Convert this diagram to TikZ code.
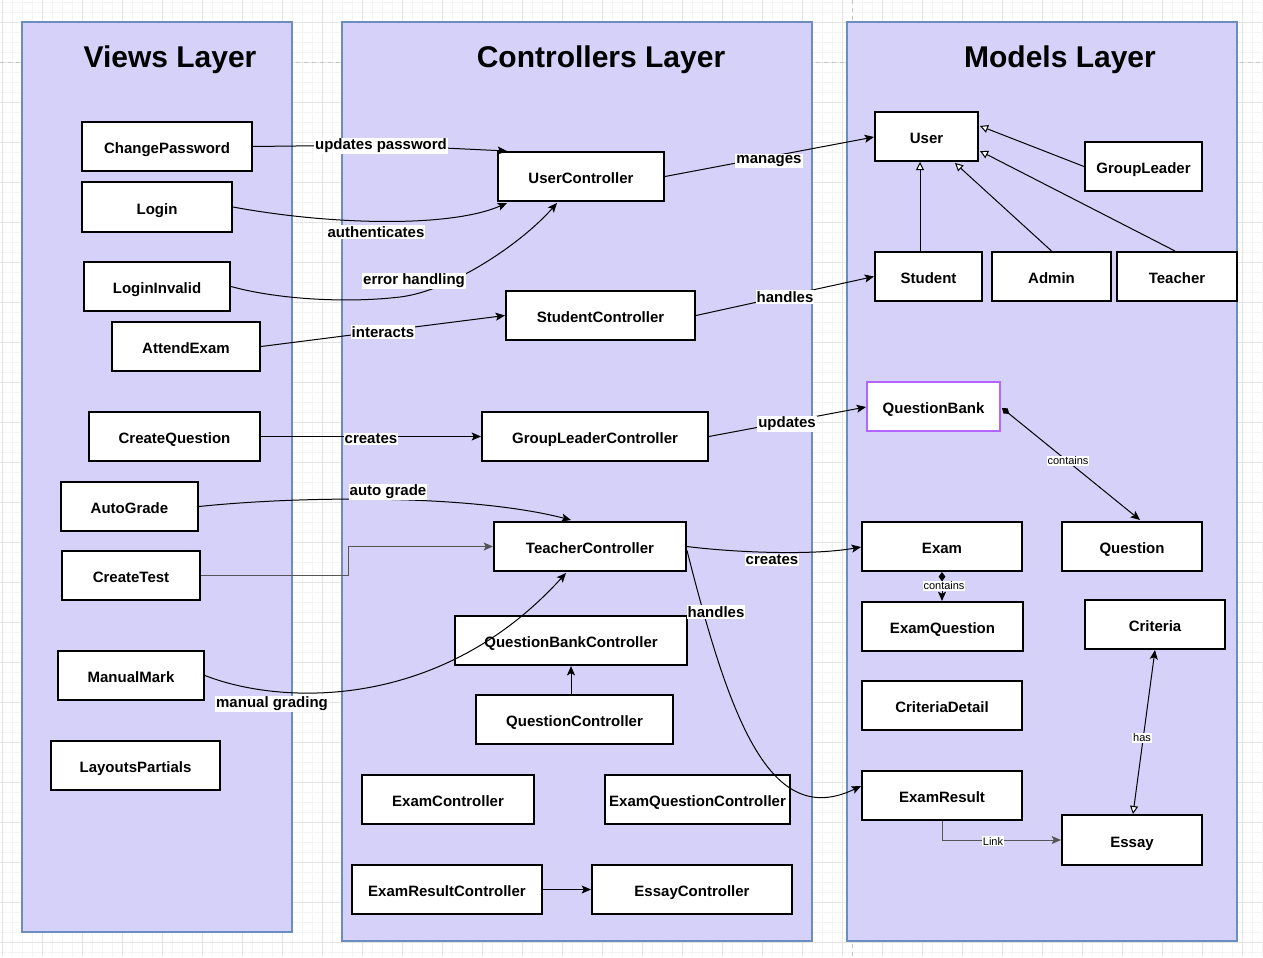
\documentclass[tikz,border=0pt]{standalone}
\usepackage{fontspec}
\setmainfont{Liberation Sans}
\usetikzlibrary{arrows.meta,calc}
\definecolor{layerfill}{HTML}{D6D1F8}
\definecolor{layerdraw}{HTML}{6C8EBF}
\definecolor{qbpurple}{HTML}{B266FF}
\definecolor{gridminor}{HTML}{F4F4F4}
\definecolor{gridmajor}{HTML}{E4E4E4}
\definecolor{pagebreak}{HTML}{C4C4C4}
\definecolor{linkgray}{HTML}{555555}
\newcommand\mybox[7][]{%
  \pgfmathsetmacro\bw{(#5-#3)*0.75}%
  \pgfmathsetmacro\bh{(#6-#4)*0.75}%
  \node[box,#1,minimum width=\bw pt,minimum height=\bh pt] (#2) at ({(#3+#5)/2},{(#4+#6)/2}) {#7};}
\begin{document}
\begin{tikzpicture}[x=0.75pt,y=-0.75pt,
  box/.style={draw=black, line width=1.5pt, fill=white, inner sep=0.5pt, text height=10.5pt, text depth=0pt, font=\fontsize{11.25}{13}\selectfont\bfseries},
  layer/.style={draw=layerdraw, line width=1.5pt, fill=layerfill},
  title/.style={font=\fontsize{22.5}{26}\selectfont\bfseries, yshift=-2.25pt},
  arr/.style={-{Stealth[length=7pt,width=6pt,inset=1.5pt]}, line width=0.75pt},
  lbl/.style={fill=white, inner sep=0.8pt, yshift=-0.75pt, font=\fontsize{11.25}{13}\selectfont\bfseries},
  slbl/.style={fill=white, inner sep=0.6pt, font=\fontsize{8.25}{10}\selectfont},
  inh/.style={-{Triangle[open, fill=white, length=6pt, width=6pt]}, line width=0.75pt},
  comp/.style={{Diamond[length=7pt,width=5pt]}-{Stealth[length=7pt,width=6pt,inset=1.5pt]}, line width=0.75pt}]
\useasboundingbox (0,0) rectangle (1263,957);
\fill[white] (0,0) rectangle (1263,957);
% grid
\foreach \x in {2.5,12.5,...,1262.5} \draw[gridminor, line width=0.5pt] (\x,0) -- (\x,957);
\foreach \y in {2.7,12.7,...,956.7} \draw[gridminor, line width=0.5pt] (0,\y) -- (1263,\y);
\foreach \x in {2.5,42.5,...,1262.5} \draw[gridmajor, line width=0.6pt] (\x,0) -- (\x,957);
\foreach \y in {22.7,62.7,...,956.7} \draw[gridmajor, line width=0.6pt] (0,\y) -- (1263,\y);
\draw[pagebreak, dashed, line width=0.6pt] (0,62) -- (1263,62);
\draw[pagebreak, dashed, line width=0.6pt] (852,0) -- (852,957);
% layers
\draw[layer] (22,22) rectangle (292,932);
\draw[layer] (342,22) rectangle (812,941);
\draw[layer] (847,22) rectangle (1237,941);
\node[title] (tv) at (170,57) {Views Layer};
\node[title] (tcl) at (601,57) {Controllers Layer};
\node[title] (tm) at (1060,57) {Models Layer};
% views
\mybox{cp}{82}{122}{252}{171}{ChangePassword}
\mybox{login}{82}{182}{232}{232}{Login}
\mybox{li}{84}{262}{230}{311}{LoginInvalid}
\mybox{ae}{112}{322}{260}{371}{AttendExam}
\mybox{cq}{89}{412}{260}{461}{CreateQuestion}
\mybox{ag}{61}{482}{198}{531}{AutoGrade}
\mybox{ct}{62}{551}{200}{600}{CreateTest}
\mybox{mm}{58}{651}{204}{700}{ManualMark}
\mybox{lp}{51}{741}{220}{790}{LayoutsPartials}
% controllers
\mybox{uc}{498}{152}{664}{201}{UserController}
\mybox{sc}{506}{291}{695}{340}{StudentController}
\mybox{glc}{482}{412}{708}{461}{GroupLeaderController}
\mybox{tc}{494}{522}{686}{571}{TeacherController}
\mybox{qbc}{455}{616}{687}{665}{QuestionBankController}
\mybox{qc}{476}{695}{673}{744}{QuestionController}
\mybox{ec}{362}{775}{534}{824}{ExamController}
\mybox{eqc}{605}{775}{790}{824}{ExamQuestionController}
\mybox{erc}{352}{865}{542}{914}{ExamResultController}
\mybox{esc}{592}{865}{792}{914}{EssayController}
% models
\mybox{user}{875}{112}{978}{161}{User}
\mybox{gl}{1085}{142}{1202}{191}{GroupLeader}
\mybox{student}{875}{252}{982}{301}{Student}
\mybox{admin}{992}{252}{1111}{301}{Admin}
\mybox{teacher}{1117}{252}{1237}{301}{Teacher}
\mybox[draw=qbpurple]{qb}{867}{382}{1000}{431}{QuestionBank}
\mybox{exam}{862}{522}{1022}{571}{Exam}
\mybox{question}{1062}{522}{1202}{571}{Question}
\mybox{eq}{862}{602}{1023}{651}{ExamQuestion}
\mybox{crit}{1085}{600}{1225}{649}{Criteria}
\mybox{cd}{862}{681}{1022}{730}{CriteriaDetail}
\mybox{er}{862}{771}{1022}{820}{ExamResult}
\mybox{essay}{1062}{815}{1202}{865}{Essay}
% view -> controller connectors
\draw[arr] (cp.east) -- (381,145) -- ($(uc.north west)+(10,0)$);
\draw[arr] (login.east) .. controls (330,225) and (450,228) .. ($(uc.south west)+(10,1)$);
\draw[arr] (li.east) .. controls (280,300) and (350,303) .. (400,297) .. controls (450,291) and (520,245) .. ($(uc.south)+(-24,1)$);
\draw[arr] (ae.east) -- (sc.west);
\draw[arr] (cq.east) -- (glc.west);
\draw[arr] (ag.east) .. controls (300,496) and (470,494) .. ($(tc.north)+(-19,-1)$);
\draw[arr, draw=linkgray] (ct.east) -- (348,575.5) -- (348,546.5) -- (tc.west);
\draw[arr] (mm.east) .. controls (280,705) and (440,712) .. ($(tc.south)+(-24,1)$);
\node[lbl] (l1) at (381,145) {updates password};
\node[lbl] (l2) at (376,231) {authenticates};
\node[lbl] (l3) at (414,280) {error handling};
\node[lbl] (l4) at (383,331) {interacts};
\node[lbl] (l5) at (371,438) {creates};
\node[lbl] (l6) at (388,491) {auto grade};
\node[lbl] (l8) at (272,703) {manual grading};
% controller -> model connectors
\draw[arr] (uc.east) -- ($(user.west)+(0,0.5)$);
\draw[arr] (sc.east) -- (student.west);
\draw[arr] (glc.east) -- ($(qb.west)+(0,0.5)$);
\draw[arr] (tc.east) .. controls (730,552) and (810,556) .. ($(exam.west)+(0,0.5)$);
\draw[arr] ($(tc.east)+(0,4)$) .. controls (730,720) and (770,830) .. ($(er.west)+(0,-9.5)$);
\draw[arr] (qc.north -| qbc.south) -- (qbc.south);
\draw[arr] (erc.east) -- (esc.west);
\node[lbl] (l9) at (769,160) {manages};
\node[lbl] (l10) at (785,296) {handles};
\node[lbl] (l11) at (787,423) {updates};
\node[lbl] (l12) at (772,559) {creates};
\node[lbl] (l13) at (716,611) {handles};
% models
\draw[inh] ($(student.north)+(-8.5,0)$) -- ($(user.south)+(-6.5,0)$);
\draw[inh] (admin.north) -- ($(user.south)+(28.5,1)$);
\draw[inh] ($(teacher.north)+(-2,0)$) -- ($(user.east)+(1,14.5)$);
\draw[inh] (gl.west) -- ($(user.east)+(1,-10.5)$);
\draw[comp] ($(qb.east)+(1,1.5)$) -- ($(question.north)+(8,-1)$);
\draw[comp] (exam.south) -- (exam.south |- eq.north);
\draw[{Stealth[length=7pt,width=6pt,inset=1.5pt]}-{Triangle[open, fill=white, length=6pt, width=6pt]}, line width=0.75pt] (crit.south) -- ($(essay.north)+(1,0)$);
\draw[arr, draw=linkgray] (er.south) -- (942,840) -- (essay.west);
\node[slbl] (s1) at (1068,461) {contains};
\node[slbl] (s2) at (944,586) {contains};
\node[slbl] (s3) at (1142,738) {has};
\node[slbl] (s4) at (993,841) {Link};
\end{tikzpicture}
\end{document}
